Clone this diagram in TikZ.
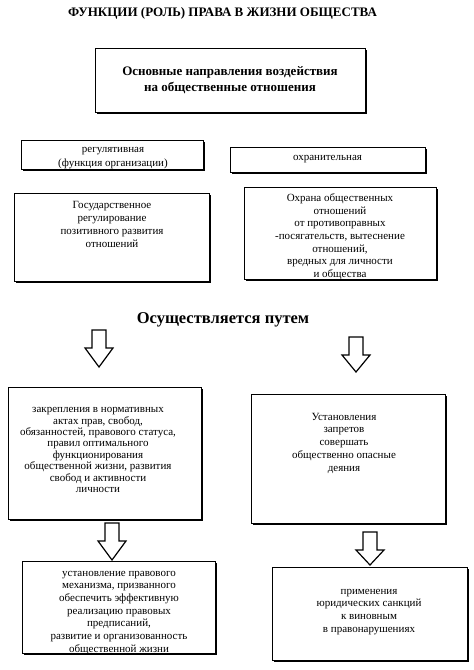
\documentclass[tikz,border=0pt]{standalone}
\usepackage{fontspec}
\setmainfont{Liberation Serif}
\usetikzlibrary{shadows}

\tikzset{every picture/.style={line width=1pt}}
\tikzset{
  box/.style={draw, fill=white, inner sep=0pt, align=center,
    drop shadow={shadow xshift=2.2pt, shadow yshift=-2.2pt, fill=black, opacity=1}},
  txt/.style={align=center, inner sep=0pt, anchor=north},
  pics/darrow/.style={code={\draw[fill=white, line width=1.2pt] (-7,0) -- (7,0) -- (7,-18) -- (14,-18) -- (0,-#1) -- (-14,-18) -- (-7,-18) -- cycle;}}
}
\newcommand{\bodyfont}{\fontsize{11}{12.7}\selectfont}

\begin{document}
\begin{tikzpicture}[x=1pt,y=1pt]
\useasboundingbox (0,0) rectangle (474,-670);

% Text Node
\node[inner sep=0pt, font=\fontsize{13}{15}\bfseries] (title) at (222.5,-13) {ФУНКЦИИ (РОЛЬ) ПРАВА В ЖИЗНИ ОБЩЕСТВА};

%Shape: Rectangle
\node[box, minimum width=270pt, minimum height=64pt, font=\fontsize{13}{16}\bfseries\selectfont] (main) at (230,-80) {Основные направления воздействия\\на общественные отношения};

%Shape: Rectangle
\node[box, minimum width=182pt, minimum height=29pt] (reg) at (112,-154.5) {};
%Shape: Rectangle
\node[box, minimum width=195pt, minimum height=25pt, font=\bodyfont] (okhr) at (327.5,-159.5) {охранительная};

% Text Node
\node[txt, font=\fontsize{11}{14}\selectfont] (regtxt) at (113,-147) {регулятивная\\(функция организации)};

%Shape: Rectangle
\node[box, minimum width=195pt, minimum height=88pt] (gos) at (111.5,-237) {};
%Shape: Rectangle
\node[box, minimum width=192pt, minimum height=92pt] (okhrana) at (340,-233) {};

% Text Node
\node[txt, font=\fontsize{11}{13}\selectfont] (gostxt) at (112,-200.5) {Государственное\\регулирование\\позитивного развития\\отношений};
% Text Node
\node[txt, font=\bodyfont] (okhranatxt) at (340,-193) {Охрана общественных\\отношений\\от противоправных\\-посягательств, вытеснение\\отношений,\\вредных для личности\\и общества};

% Text Node
\node[inner sep=0pt, font=\fontsize{16.5}{19}\bfseries] (put) at (223,-320) {Осуществляется путем};

%Block Arrows
\pic (al) at (99,-330) {darrow=37};
\pic (ar) at (356,-337) {darrow=35};

%Shape: Rectangle
\node[box, minimum width=193pt, minimum height=132pt] (zakr) at (104.5,-453) {};
%Shape: Rectangle
\node[box, minimum width=194pt, minimum height=129pt] (zapr) at (348,-458.5) {};

% Text Node
\node[txt, font=\fontsize{11}{11.4}\selectfont] (zakrtxt) at (98,-407) {закрепления в нормативных\\актах прав, свобод,\\обязанностей, правового статуса,\\правил оптимального\\функционирования\\общественной жизни, развития\\свобод и активности\\личности};
% Text Node
\node[txt, font=\bodyfont] (zaprtxt) at (344,-412.5) {Установления\\запретов\\совершать\\общественно опасные\\деяния};

%Block Arrows
\pic (bl) at (112,-523) {darrow=37};
\pic (br) at (370,-532) {darrow=33};

%Shape: Rectangle
\node[box, minimum width=193pt, minimum height=92pt] (mekh) at (118.5,-607) {};
%Shape: Rectangle
\node[box, minimum width=195pt, minimum height=93pt] (sank) at (369.5,-613.5) {};

% Text Node
\node[txt, font=\bodyfont] (mekhtxt) at (119,-570.5) {установление правового\\механизма, призванного\\обеспечить эффективную\\реализацию правовых\\предписаний,\\развитие и организованность\\общественной жизни};
% Text Node
\node[txt, font=\bodyfont] (sanktxt) at (369,-588.5) {применения\\юридических санкций\\к виновным\\в правонарушениях};

\end{tikzpicture}
\end{document}
